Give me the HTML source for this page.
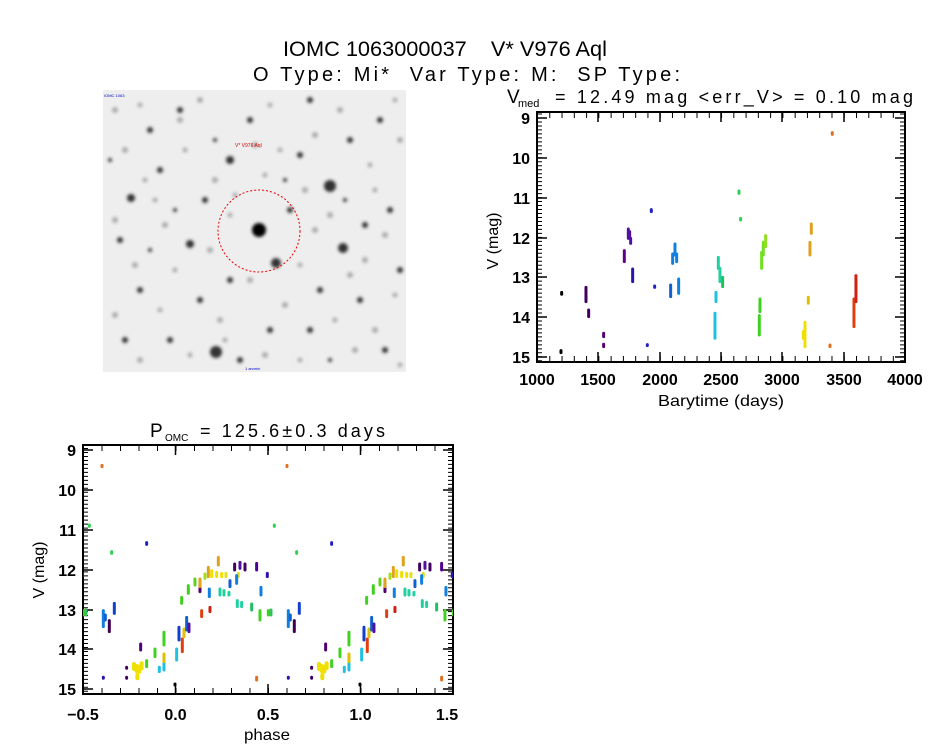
<!DOCTYPE html><html><head><style>body{margin:0;background:#fff}svg{display:block}</style></head><body>
<svg width="944" height="747" xmlns="http://www.w3.org/2000/svg" font-family="Liberation Sans, sans-serif">
<rect width="944" height="747" fill="#fff"/>
<text x="283" y="56" font-size="21" textLength="324" lengthAdjust="spacingAndGlyphs" xml:space="preserve">IOMC 1063000037    V* V976 Aql</text>
<text x="253" y="81" font-size="20" textLength="427" lengthAdjust="spacing" xml:space="preserve">O Type: Mi*  Var Type: M:  SP Type:</text>
<defs><filter id="b"><feGaussianBlur stdDeviation="1.6"/></filter><clipPath id="ic"><rect x="103" y="90" width="303" height="282"/></clipPath>
<clipPath id="c1"><rect x="537" y="112" width="368" height="250"/></clipPath><clipPath id="c2"><rect x="83" y="445" width="370" height="249"/></clipPath></defs>
<g clip-path="url(#ic)"><rect x="103" y="90" width="303" height="282" fill="#eeeeee"/>
<g filter="url(#b)" fill="#aaa">
<circle cx="115" cy="110" r="3"/><circle cx="140" cy="105" r="2.5"/><circle cx="200" cy="100" r="3"/><circle cx="270" cy="105" r="2.5"/><circle cx="340" cy="110" r="3"/><circle cx="395" cy="100" r="2.5"/><circle cx="125" cy="150" r="3"/><circle cx="185" cy="150" r="2.5"/><circle cx="255" cy="145" r="3"/><circle cx="315" cy="135" r="3"/><circle cx="370" cy="165" r="2.5"/><circle cx="400" cy="140" r="3"/><circle cx="145" cy="180" r="2.5"/><circle cx="215" cy="180" r="3"/><circle cx="265" cy="175" r="2.5"/><circle cx="305" cy="190" r="3"/><circle cx="375" cy="190" r="2.5"/><circle cx="115" cy="220" r="3"/><circle cx="165" cy="225" r="3"/><circle cx="230" cy="215" r="2.5"/><circle cx="315" cy="230" r="3"/><circle cx="385" cy="235" r="3"/><circle cx="135" cy="265" r="3"/><circle cx="175" cy="270" r="2.5"/><circle cx="250" cy="280" r="3"/><circle cx="300" cy="265" r="2.5"/><circle cx="350" cy="275" r="3"/><circle cx="395" cy="295" r="2.5"/><circle cx="115" cy="315" r="3"/><circle cx="160" cy="310" r="2.5"/><circle cx="220" cy="320" r="3"/><circle cx="285" cy="305" r="3"/><circle cx="335" cy="320" r="2.5"/><circle cx="375" cy="330" r="3"/><circle cx="140" cy="360" r="3"/><circle cx="190" cy="355" r="2.5"/><circle cx="265" cy="355" r="3"/><circle cx="300" cy="360" r="2.5"/><circle cx="355" cy="350" r="3"/><circle cx="400" cy="365" r="2.5"/><circle cx="210" cy="250" r="3"/><circle cx="235" cy="195" r="2.5"/><circle cx="330" cy="215" r="3"/><circle cx="155" cy="200" r="2.5"/><circle cx="365" cy="260" r="3"/><circle cx="280" cy="150" r="2.5"/><circle cx="180" cy="120" r="3"/><circle cx="225" cy="340" r="2.5"/>
</g>
<g filter="url(#b)" fill="#333">
<circle cx="259" cy="230" r="7" fill="#000"/><circle cx="330" cy="186" r="6"/><circle cx="216" cy="352" r="6"/><circle cx="276" cy="263" r="5"/><circle cx="343" cy="248" r="5"/><circle cx="131" cy="198" r="4"/><circle cx="190" cy="244" r="4"/><circle cx="300" cy="155" r="3"/><circle cx="150" cy="130" r="3"/><circle cx="380" cy="120" r="3"/><circle cx="230" cy="160" r="4"/><circle cx="360" cy="300" r="3"/><circle cx="140" cy="290" r="3"/><circle cx="310" cy="330" r="3"/><circle cx="390" cy="210" r="3"/><circle cx="170" cy="340" r="3"/><circle cx="250" cy="120" r="3"/><circle cx="120" cy="240" r="3"/><circle cx="290" cy="210" r="3"/><circle cx="200" cy="300" r="3"/><circle cx="350" cy="140" r="3"/><circle cx="385" cy="350" r="3"/><circle cx="160" cy="170" r="3"/><circle cx="320" cy="290" r="3"/><circle cx="230" cy="280" r="3"/><circle cx="180" cy="110" r="3"/><circle cx="270" cy="330" r="3"/><circle cx="365" cy="225" r="3"/><circle cx="205" cy="200" r="3"/><circle cx="125" cy="340" r="3"/><circle cx="400" cy="270" r="3"/><circle cx="310" cy="100" r="3"/><circle cx="240" cy="360" r="3"/><circle cx="150" cy="250" r="2"/><circle cx="215" cy="140" r="2"/><circle cx="330" cy="360" r="2"/><circle cx="285" cy="180" r="2"/><circle cx="175" cy="210" r="2"/><circle cx="345" cy="200" r="2"/><circle cx="110" cy="160" r="2"/></g>
<circle cx="259" cy="231" r="41" fill="none" stroke="#e00" stroke-width="1" stroke-dasharray="2 2"/>
<text x="235" y="147" font-size="5" fill="#d00">V* V976 Aql</text><text x="104" y="97" font-size="4" fill="#00c">IOMC 1063</text><text x="245" y="370" font-size="4" fill="#00c">1 arcmin</text></g>
<text x="507" y="103" font-size="19">V</text><text x="518" y="107" font-size="11">med</text>
<text x="555" y="103" font-size="18" textLength="358" lengthAdjust="spacing">= 12.49 mag &lt;err_V&gt; = 0.10 mag</text>
<g stroke="#000" fill="none">
<rect x="537" y="112" width="368" height="250" stroke-width="2"/>
<line x1="539.5" y1="112" x2="539.5" y2="362" stroke-width="5" stroke-dasharray="1 2.98" stroke-dashoffset="-1.5"/>
<line x1="902.5" y1="112" x2="902.5" y2="362" stroke-width="5" stroke-dasharray="1 2.98" stroke-dashoffset="-1.5"/>
<line x1="537" y1="359" x2="905" y2="359" stroke-width="6" stroke-dasharray="1 11.27"/>
<line x1="537" y1="115" x2="905" y2="115" stroke-width="6" stroke-dasharray="1 11.27"/>
<path d="M537 118h10M537 158h10M537 198h10M537 238h10M537 277h10M537 317h10M537 357h10M905 118h-10M905 158h-10M905 198h-10M905 238h-10M905 277h-10M905 317h-10M905 357h-10M598 362v-10M660 362v-10M721 362v-10M782 362v-10M844 362v-10M598 112v10M660 112v10M721 112v10M782 112v10M844 112v10" stroke-width="1.5"/>
</g>
<g font-size="16" font-weight="bold" text-anchor="end"><text x="530" y="124">9</text><text x="530" y="164">10</text><text x="530" y="204">11</text><text x="530" y="244">12</text><text x="530" y="283">13</text><text x="530" y="323">14</text><text x="530" y="363">15</text></g>
<g font-size="16" font-weight="bold" text-anchor="middle"><text x="537" y="385">1000</text><text x="598" y="385">1500</text><text x="660" y="385">2000</text><text x="721" y="385">2500</text><text x="782" y="385">3000</text><text x="844" y="385">3500</text><text x="905" y="385">4000</text></g>
<text x="658" y="406" font-size="16" textLength="126" lengthAdjust="spacingAndGlyphs">Barytime (days)</text>
<text transform="translate(498,241) rotate(-90)" font-size="16" text-anchor="middle">V (mag)</text>
<g clip-path="url(#c1)"><g transform="translate(480,85) scale(0.3333)" stroke-linecap="round" stroke-width="9">
<g stroke="#000"><path d="M245 622v6M243 797v6"/></g>
<path d="M318 607v43M326 675v20" stroke="#400060"/><path d="M371 745v10M371 778v7" stroke="#500070"/>
<path d="M433 497v33" stroke="#600090"/><path d="M445 432v28M449 440v15" stroke="#5010a0"/><path d="M452 460v15" stroke="#5010a0"/><path d="M458 552v38" stroke="#3010b0"/>
<path d="M514 374v6M524 603v4M502 779v3" stroke="#2020c0"/>
<path d="M572 600v35" stroke="#1060d0"/><path d="M578 507v28M585 477v33M590 507v23" stroke="#1080e0"/><path d="M596 582v43" stroke="#1080e0"/>
<path d="M708 622v28M705 685v75" stroke="#20c0e0"/><path d="M715 517v33M720 550v40" stroke="#20d0a0"/><path d="M728 577v28" stroke="#20c060"/>
<path d="M777 318v7M782 400v5" stroke="#30d050"/>
<path d="M840 642v38M838 692v58" stroke="#40d020"/><path d="M845 502v48M850 472v38" stroke="#70e020"/><path d="M857 452v33" stroke="#90e020"/>
<path d="M975 712v73M970 740v20" stroke="#f0e000"/><path d="M985 637v18" stroke="#e0c000"/><path d="M990 472v38M994 417v28" stroke="#e0a020"/>
<path d="M1057 143v5M1050 780v5" stroke="#e07020"/>
<path d="M1122 642v83" stroke="#e04010"/><path d="M1128 572v78" stroke="#d02010"/>
</g></g>
<text x="150" y="437" font-size="19">P</text><text x="165" y="441" font-size="10">OMC</text>
<text x="200" y="437" font-size="18" textLength="185" lengthAdjust="spacing">= 125.6±0.3 days</text>
<g stroke="#000" fill="none">
<rect x="83" y="445" width="370" height="249" stroke-width="2"/>
<line x1="85.5" y1="445" x2="85.5" y2="694" stroke-width="5" stroke-dasharray="1 2.98" stroke-dashoffset="-3"/>
<line x1="450.5" y1="445" x2="450.5" y2="694" stroke-width="5" stroke-dasharray="1 2.98" stroke-dashoffset="-3"/>
<line x1="83" y1="691" x2="453" y2="691" stroke-width="6" stroke-dasharray="1 17.5"/>
<line x1="83" y1="448" x2="453" y2="448" stroke-width="6" stroke-dasharray="1 17.5"/>
<path d="M83 450h10M83 490h10M83 530h10M83 570h10M83 610h10M83 649h10M83 689h10M453 450h-10M453 490h-10M453 530h-10M453 570h-10M453 610h-10M453 649h-10M453 689h-10M175.5 694v-10M268 694v-10M360.5 694v-10M175.5 445v10M268 445v10M360.5 445v10" stroke-width="1.5"/>
</g>
<g font-size="16" font-weight="bold" text-anchor="end"><text x="76" y="456">9</text><text x="76" y="496">10</text><text x="76" y="536">11</text><text x="76" y="576">12</text><text x="76" y="616">13</text><text x="76" y="655">14</text><text x="76" y="695">15</text></g>
<g font-size="16" font-weight="bold" text-anchor="middle"><text x="83" y="720">−0.5</text><text x="175.5" y="720">0.0</text><text x="268" y="720">0.5</text><text x="360.5" y="720">1.0</text><text x="447" y="720">1.5</text></g>
<text x="244" y="740" font-size="16" textLength="46" lengthAdjust="spacingAndGlyphs">phase</text>
<text transform="translate(44,570) rotate(-90)" font-size="16" text-anchor="middle">V (mag)</text>
<defs><g id="ph" stroke-linecap="round" stroke-width="9">
<path d="M246 166v4" stroke="#e07020"/><path d="M208 345v4M275 425v5" stroke="#30d050"/><path d="M198 600v15" stroke="#30c060"/>
<path d="M380 398v5" stroke="#2020c0"/><path d="M250 602v48" stroke="#1080e0"/><path d="M256 615v15" stroke="#1060d0"/><path d="M283 580v30" stroke="#1040d0"/>
<path d="M268 632v33" stroke="#400050"/><path d="M362 702v18" stroke="#500070"/><path d="M250 802v3" stroke="#3010b0"/>
<path d="M320 772v3M320 802v3" stroke="#400060"/>
<path d="M342 762v15M350 768v15M358 770v15M365 760v15M352 795v10" stroke="#f0e000" stroke-width="12"/>
<path d="M380 752v18M405 717v23M432 667v38" stroke="#40d020"/>
<path d="M418 772v13M432 757v23" stroke="#20c0e0"/><path d="M432 732v23" stroke="#e0c000"/>
<path d="M465 822v3" stroke="#000"/>
<path d="M470 717v33" stroke="#20c0e0"/><path d="M487 687v38" stroke="#e04010"/><path d="M492 657v23" stroke="#e0c000"/><path d="M500 622v38" stroke="#1060d0"/><path d="M507 642v23" stroke="#5010a0"/><path d="M477 652v38" stroke="#1040d0"/>
<path d="M485 562v18M505 527v23" stroke="#40d020"/><path d="M525 507v18" stroke="#60d020"/><path d="M540 522v23" stroke="#500070"/><path d="M540 507v23" stroke="#e0a020"/>
<path d="M545 602v18" stroke="#e04010"/><path d="M570 592v13" stroke="#d02010"/>
<path d="M555 492v13" stroke="#a0e020"/><path d="M565 472v28M595 442v23" stroke="#e0a020"/><path d="M575 482v18M590 487v13M605 490v10" stroke="#f0e000"/><path d="M618 490v10M655 490v10" stroke="#e0e020"/>
<path d="M568 537v23" stroke="#1080e0"/><path d="M600 537v18M612 542v13M627 547v8" stroke="#20d0a0"/><path d="M630 512v18" stroke="#1060d0"/><path d="M650 497v23" stroke="#1080e0"/>
<path d="M644 462v18M675 462v18" stroke="#400060"/><path d="M660 457v18" stroke="#5010a0"/><path d="M710 460v20" stroke="#500090"/><path d="M742 490v10" stroke="#3010b0"/>
<path d="M652 572v18M665 577v13" stroke="#20d0a0"/><path d="M695 582v18" stroke="#20c060"/><path d="M720 602v28M745 602v13" stroke="#40d020"/>
<path d="M723 532v23" stroke="#1080e0"/><path d="M710 802v8" stroke="#e07020"/>
</g></defs>
<g clip-path="url(#c2)"><g transform="translate(20,410) scale(0.3333)">
<use href="#ph"/><use href="#ph" x="-555"/><use href="#ph" x="555"/>
</g></g>
</svg>
</body></html>
